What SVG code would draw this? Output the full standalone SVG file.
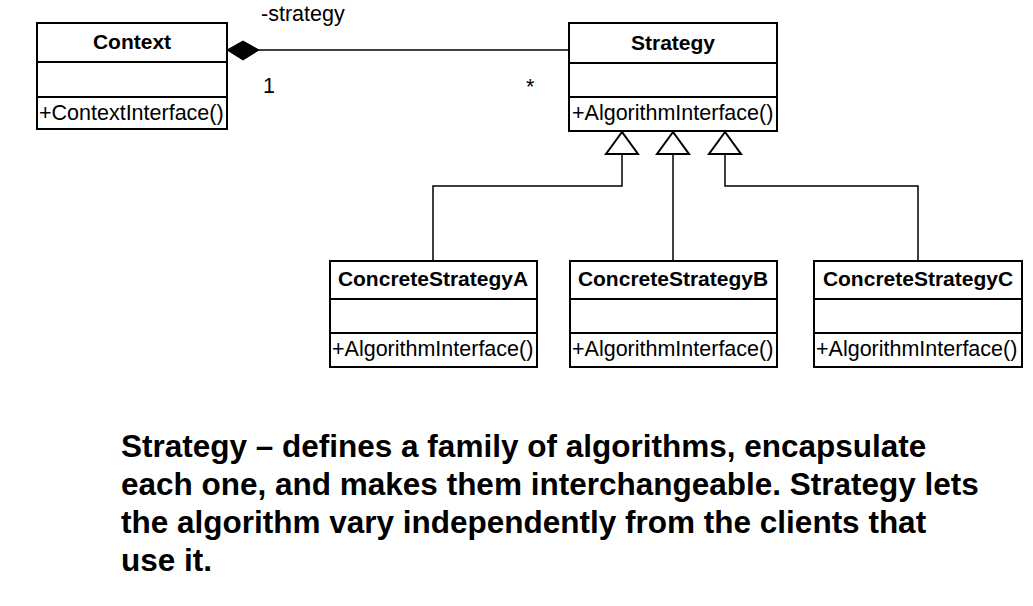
<svg xmlns="http://www.w3.org/2000/svg" width="1033" height="606" viewBox="0 0 1033 606">
<style>
.box{fill:#fff;stroke:#000;stroke-width:2}
.div{stroke:#000;stroke-width:2}
.t{font-family:"Liberation Sans",Arial,sans-serif;font-size:21px;font-weight:bold;text-anchor:middle;fill:#000}
.m{font-family:"Liberation Sans",Arial,sans-serif;font-size:21.5px;fill:#000}
.c{fill:none;stroke:#000;stroke-width:1.5}
.tri{fill:#fff;stroke:#000;stroke-width:2}
.desc{font-family:"Liberation Sans",Arial,sans-serif;font-size:31.5px;font-weight:bold;fill:#000}
</style>
<rect width="1033" height="606" fill="#fff"/>
<g id="connectors">
  <line class="c" x1="258" y1="50" x2="569" y2="50"/>
  <polygon points="227,50 243,41 259,50 243,60" fill="#000" stroke="#000" stroke-width="1"/>
  <polyline class="c" points="622,154 622,186 433,186 433,261"/>
  <polyline class="c" points="673,154 673,261"/>
  <polyline class="c" points="725,154 725,186 918,186 918,261"/>
  <polygon class="tri" points="622,132 606,154 638,154"/>
  <polygon class="tri" points="673,132 657,154 689,154"/>
  <polygon class="tri" points="725,132 709,154 741,154"/>
  <text class="m" x="261" y="21">-strategy</text>
  <text class="m" x="263" y="93">1</text>
  <text class="m" x="526" y="94">*</text>
</g>
<g id="context">
  <rect class="box" x="37" y="23" width="190" height="106"/>
  <line class="div" x1="37" y1="62" x2="227" y2="62"/>
  <line class="div" x1="37" y1="97" x2="227" y2="97"/>
  <text class="t" x="132" y="49">Context</text>
  <text class="m" x="39" y="120">+ContextInterface()</text>
</g>
<g id="strategy">
  <rect class="box" x="569" y="23" width="208" height="108"/>
  <line class="div" x1="569" y1="63" x2="777" y2="63"/>
  <line class="div" x1="569" y1="97" x2="777" y2="97"/>
  <text class="t" x="673" y="50">Strategy</text>
  <text class="m" x="572" y="120">+AlgorithmInterface()</text>
</g>
<g id="concreteA">
  <rect class="box" x="330" y="261" width="207" height="106"/>
  <line class="div" x1="330" y1="299" x2="537" y2="299"/>
  <line class="div" x1="330" y1="333" x2="537" y2="333"/>
  <text class="t" x="433" y="286">ConcreteStrategyA</text>
  <text class="m" x="332" y="356">+AlgorithmInterface()</text>
</g>
<g id="concreteB">
  <rect class="box" x="570" y="261" width="207" height="106"/>
  <line class="div" x1="570" y1="299" x2="777" y2="299"/>
  <line class="div" x1="570" y1="333" x2="777" y2="333"/>
  <text class="t" x="673" y="286">ConcreteStrategyB</text>
  <text class="m" x="572" y="356">+AlgorithmInterface()</text>
</g>
<g id="concreteC">
  <rect class="box" x="814" y="261" width="208" height="106"/>
  <line class="div" x1="814" y1="299" x2="1022" y2="299"/>
  <line class="div" x1="814" y1="333" x2="1022" y2="333"/>
  <text class="t" x="918" y="286">ConcreteStrategyC</text>
  <text class="m" x="816" y="356">+AlgorithmInterface()</text>
</g>
<g id="description">
  <text class="desc" x="121" y="457">Strategy – defines a family of algorithms, encapsulate</text>
  <text class="desc" x="121" y="495">each one, and makes them interchangeable. Strategy lets</text>
  <text class="desc" x="121" y="533">the algorithm vary independently from the clients that</text>
  <text class="desc" x="121" y="571">use it.</text>
</g>
</svg>
